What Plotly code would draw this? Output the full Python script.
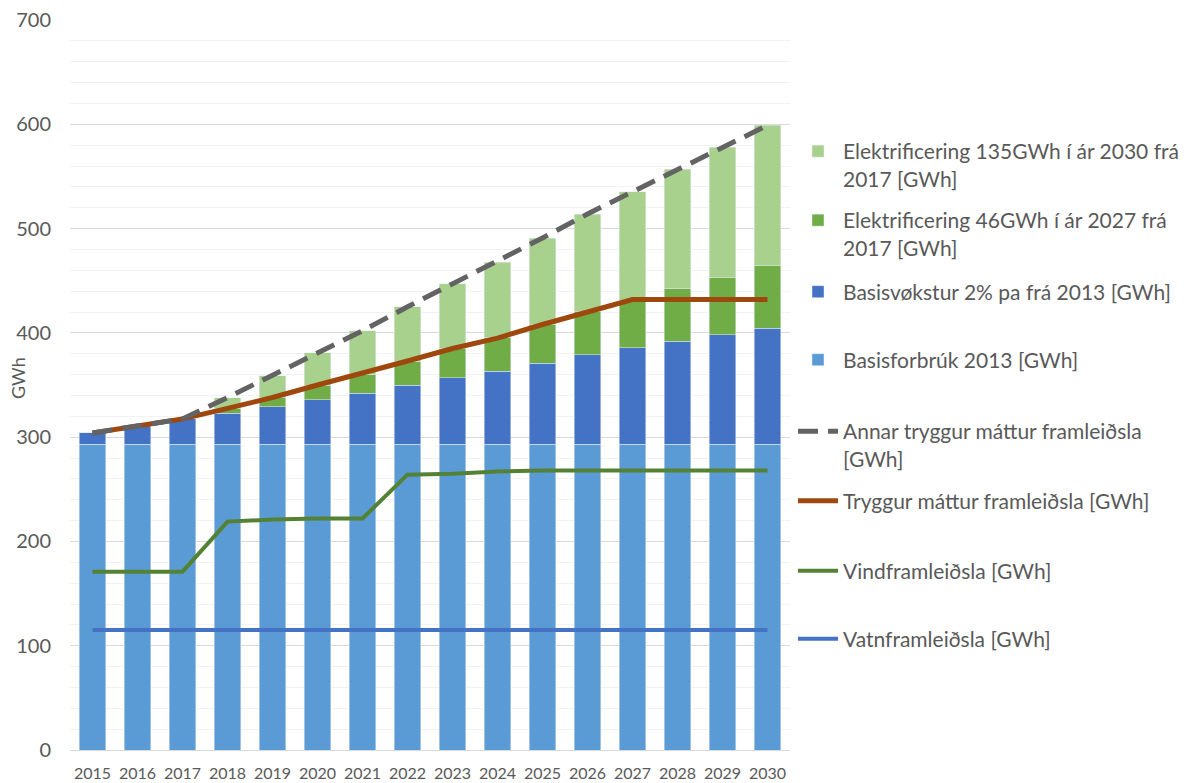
import plotly.graph_objects as go

years = [str(y) for y in range(2015, 2031)]
basisforbruk = [293] * 16
basisvokstur = [11, 18, 24.5, 30, 36, 43, 49, 57, 64, 70, 78, 86, 92.5, 99, 105, 111.5]
elek46 = [0, 0, 0, 4.6, 9.2, 13.8, 18.4, 23, 27.6, 32.2, 36.8, 41.4, 46, 50.6, 55.2, 59.8]
elek135 = [0, 0, 0, 10.4, 20.8, 31.2, 41.5, 51.9, 62.3, 72.7, 83.1, 93.5, 103.8, 114.2, 124.6, 135]
annar = [304, 311, 317.5, 338, 359, 381, 402, 425, 447, 468, 491, 514, 535, 557, 578, 599]
tryggur = [304, 311, 317.5, 327.6, 338, 350, 361, 373, 385, 395, 408, 420, 432, 432, 432, 432]
vind = [171, 171, 171, 219, 221, 222, 222, 264, 265, 267, 268, 268, 268, 268, 268, 268]
vatn = [115] * 16

names = [
    "Elektrificering 135GWh í ár 2030 frá<br>2017 [GWh]",
    "Elektrificering 46GWh í ár 2027 frá<br>2017 [GWh]",
    "Basisvøkstur 2% pa frá 2013 [GWh]",
    "Basisforbrúk 2013 [GWh]",
    "Annar tryggur máttur framleiðsla<br>[GWh]",
    "Tryggur máttur framleiðsla [GWh]",
    "Vindframleiðsla [GWh]",
    "Vatnframleiðsla [GWh]",
]
legend_centers_px = [165, 234, 292, 360, 445, 501, 571, 639]

FONT = "Lato"
GREY = "#595959"

fig = go.Figure()
fig.add_trace(go.Bar(x=years, y=basisforbruk, name=names[3], marker_color="#5B9BD5", legend="legend4"))
fig.add_trace(go.Bar(x=years, y=basisvokstur, name=names[2], marker_color="#4472C4", legend="legend3"))
fig.add_trace(go.Bar(x=years, y=elek46, name=names[1], marker_color="#70AD47", legend="legend2"))
fig.add_trace(go.Bar(x=years, y=elek135, name=names[0], marker_color="#A9D18E", legend="legend"))
fig.add_trace(go.Scatter(x=years, y=vatn, mode="lines", name=names[7],
                         line=dict(color="#4472C4", width=4), legend="legend8"))
fig.add_trace(go.Scatter(x=years, y=vind, mode="lines", name=names[6],
                         line=dict(color="#548235", width=4), legend="legend7"))
fig.add_trace(go.Scatter(x=years, y=tryggur, mode="lines", name=names[5],
                         line=dict(color="#9E480E", width=5), legend="legend6"))
fig.add_trace(go.Scatter(x=years, y=annar, mode="lines", name=names[4],
                         line=dict(color="#636363", width=5, dash="20px,10px"), legend="legend5"))

# page body has an 8px margin; compensate so the plot lands where intended
OFF = 8
FW, FH = 1189 - OFF, 783 - OFF
L, R, top, bottom = 70 - OFF, 790 - OFF, 20 - OFF, 750 - OFF
H = bottom - top
W = R - L
legends = {}
for i, yc in enumerate(legend_centers_px):
    key = "legend" if i == 0 else f"legend{i+1}"
    legends[key] = dict(
        x=1.0 + 3 / W, xanchor="left", y=(bottom + OFF - yc) / H, yanchor="middle",
        font=dict(family=FONT, size=21, color=GREY), bgcolor="rgba(0,0,0,0)",
        itemwidth=40, valign="top",
    )

fig.update_layout(
    width=FW, height=FH,
    margin=dict(l=L, r=FW - R, t=top, b=FH - bottom, autoexpand=False),
    paper_bgcolor="white", plot_bgcolor="white",
    barmode="stack", bargap=0.42,
    font=dict(family=FONT, color=GREY),
    showlegend=True,
    annotations=[dict(
        text="GWh", textangle=-90, showarrow=False,
        xref="paper", yref="paper",
        x=(18 - OFF - L) / W, y=(bottom + OFF - 378) / H,
        xanchor="center", yanchor="middle",
        font=dict(family=FONT, size=18, color=GREY),
    )],
    **legends,
)
fig.update_xaxes(
    type="category", showgrid=False, showline=True, linecolor="#D9D9D9", linewidth=1,
    tickfont=dict(family=FONT, size=16, color=GREY), ticks="", ticklabelstandoff=9,
    automargin=False, ticklabeloverflow="allow",
)
fig.update_yaxes(
    range=[0, 700], dtick=100, showgrid=True, gridcolor="#D9D9D9", gridwidth=1,
    minor=dict(dtick=20, showgrid=True, gridcolor="#F2F2F2", gridwidth=1),
    zeroline=False, showline=False, automargin=False, ticklabeloverflow="allow",
    tickfont=dict(family=FONT, size=20, color=GREY), ticklabelstandoff=18,
)

fig.write_html("out.html")
